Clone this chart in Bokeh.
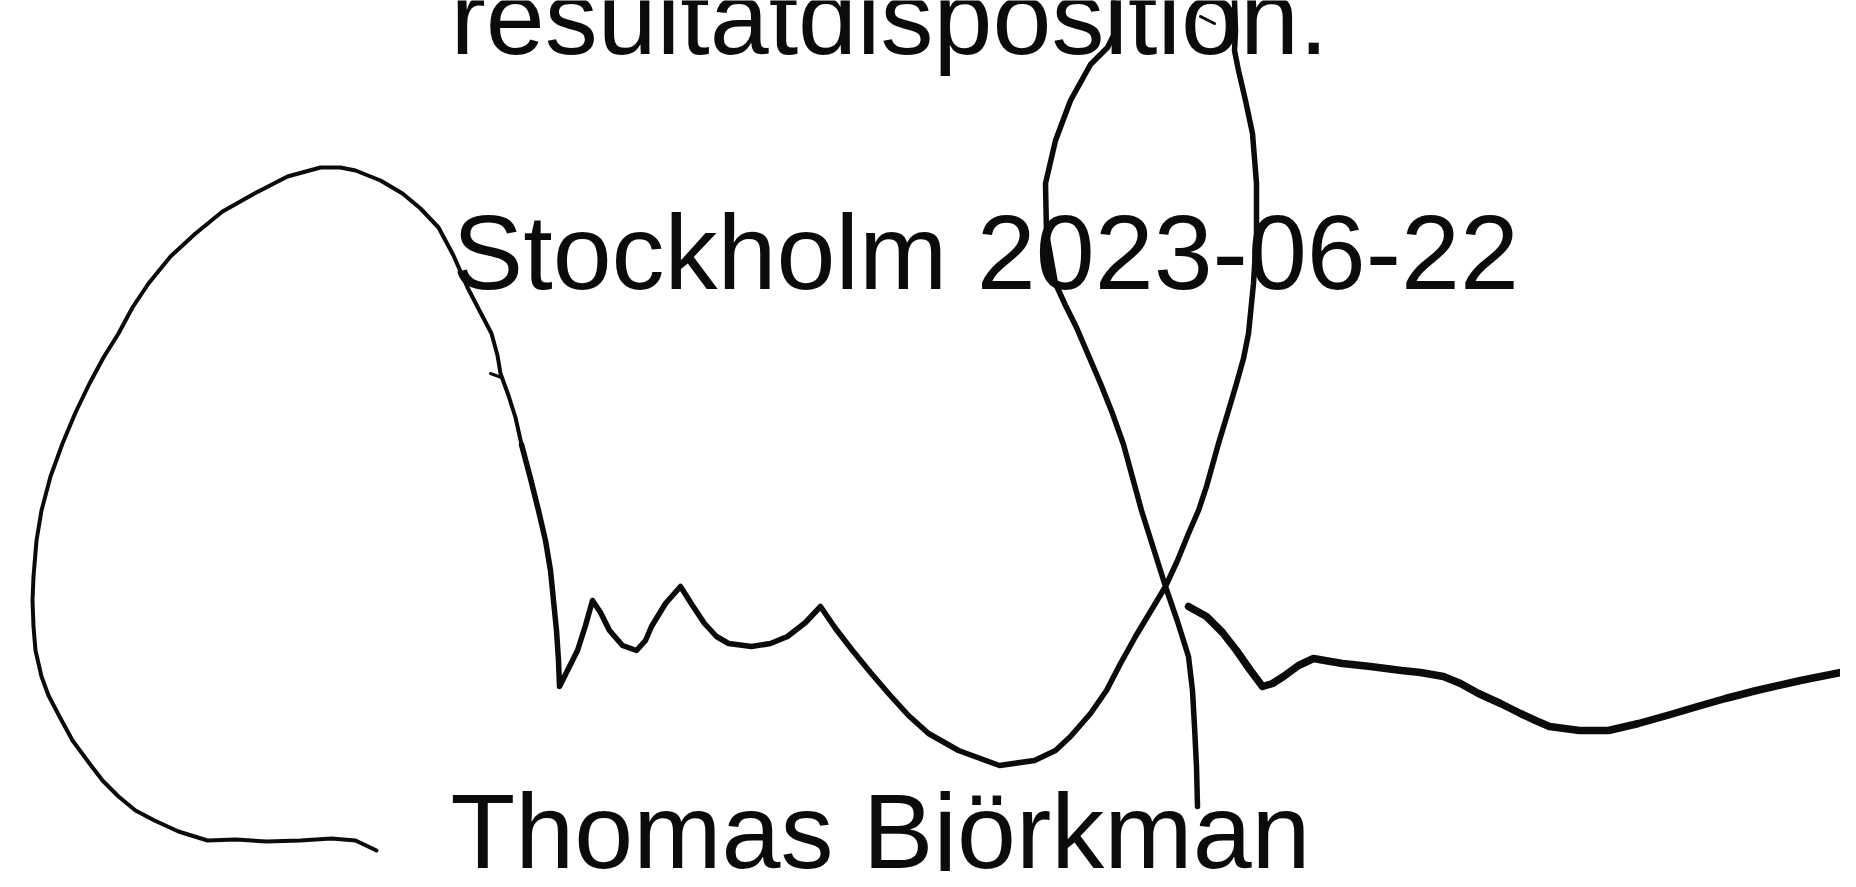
from bokeh.plotting import figure
from bokeh.models import Range1d
from bokeh.core.properties import value
from bokeh.embed import file_html
from bokeh.resources import INLINE

# ---- text lines (page pixel coordinates: x, baseline y) ----
texts = ["resultatdisposition.", "Stockholm 2023-06-22", "Thomas Björkman"]
text_x = [450, 452, 450]
text_y = [55, 290, 869]

# ---- signature strokes (page pixel coordinates) ----
loop_x = [376, 355, 331, 300, 266, 235, 207, 178, 154, 135, 118, 102, 89, 72, 59, 48, 41, 35, 33, 32, 33, 36, 41, 50, 62,
          75, 89, 103, 118, 132, 148, 170, 195, 222, 254, 287, 320, 340, 355, 380, 402, 420, 438, 453, 467, 480, 491, 497,
          500, 508, 515, 521]
loop_y = [850, 840, 838, 840, 841, 839, 840, 831, 820, 810, 796, 780, 763, 740, 716, 695, 676, 650, 626, 600, 576, 540, 510,
          476, 443, 412, 383, 357, 333, 307, 283, 256, 233, 211, 193, 176, 167, 167, 170, 180, 193, 208, 227, 255, 287, 312,
          333, 355, 373, 395, 417, 444]

body_x = [521, 530, 538, 545, 550, 553, 556, 558, 559, 568, 577, 585, 592, 600, 609, 622, 636, 645, 651, 665, 680, 692, 704,
          716, 728, 751, 770, 787, 805, 820, 835, 852, 870, 888, 908, 928, 958, 999, 1034, 1055, 1070, 1090, 1106, 1120,
          1135, 1150, 1165, 1177, 1188, 1198, 1206, 1218, 1228, 1236, 1243, 1248, 1253, 1256, 1256, 1252, 1245, 1238, 1234,
          1235, 1234, 1234, 1113, 1113, 1113, 1107, 1090, 1070, 1055, 1045, 1046, 1055, 1065, 1076, 1088, 1100, 1112,
          1123, 1132, 1141, 1153, 1165, 1177, 1188, 1192, 1194, 1196, 1197]
body_y = [444, 478, 510, 540, 570, 600, 630, 660, 686, 668, 650, 625, 600, 612, 630, 645, 650, 640, 626, 603, 586, 605, 623,
          636, 643, 646, 643, 636, 622, 606, 628, 650, 672, 693, 715, 733, 750, 765, 760, 750, 736, 713, 690, 663, 636,
          611, 586, 560, 533, 510, 486, 443, 410, 383, 358, 333, 283, 233, 183, 133, 100, 70, 50,
          30, 0, -60, -60, 0, 35, 47, 64, 100, 140, 183, 233, 283, 305, 327, 355, 383, 413, 444, 477, 510, 548, 586, 621,
          656, 690, 726, 766, 806]

tail_x = [1188, 1206, 1222, 1236, 1250, 1262, 1272, 1283, 1298, 1313, 1330, 1342, 1370, 1401, 1420, 1443, 1460, 1478, 1500,
          1520, 1535, 1549, 1579, 1608, 1638, 1670, 1697, 1725, 1756, 1800, 1845]
tail_y = [606, 616, 632, 650, 670, 686, 683, 676, 665, 658, 661, 663, 666, 670, 672, 676, 683, 693, 703, 713, 720, 726, 730,
          730, 723, 714, 706, 698, 690, 680, 671]

tick_x = [490, 501]
tick_y = [373, 377]

mark_x = [1200, 1214]
mark_y = [16, 23]

W, H = 1840, 871
p = figure(width=W, height=H, x_range=Range1d(0, W), y_range=Range1d(H, 0),
           x_axis_type=None, y_axis_type=None, output_backend="svg", toolbar_location=None,
           min_border=0, min_border_left=0, min_border_right=0, min_border_top=0, min_border_bottom=0)
p.grid.visible = False
p.outline_line_color = None
p.background_fill_color = "white"
p.border_fill_color = "white"

ink = "#0b0b0b"
p.line(loop_x, loop_y, line_width=4, line_color=ink, line_join="round", line_cap="round")
p.line(body_x, body_y, line_width=5.5, line_color=ink, line_join="round", line_cap="round")
p.line(tail_x, tail_y, line_width=7.5, line_color=ink, line_join="round", line_cap="round")
p.line(tick_x, tick_y, line_width=3, line_color=ink, line_cap="round")

p.text(x=text_x, y=text_y, text=texts, text_font=value("Liberation Sans"), text_font_size="106px",
       text_baseline="alphabetic", text_align="left", text_color=ink, y_offset=-39)

p.line(mark_x, mark_y, line_width=3, line_color=ink, line_cap="round")

open("out.html", "w").write(file_html(p, INLINE))
